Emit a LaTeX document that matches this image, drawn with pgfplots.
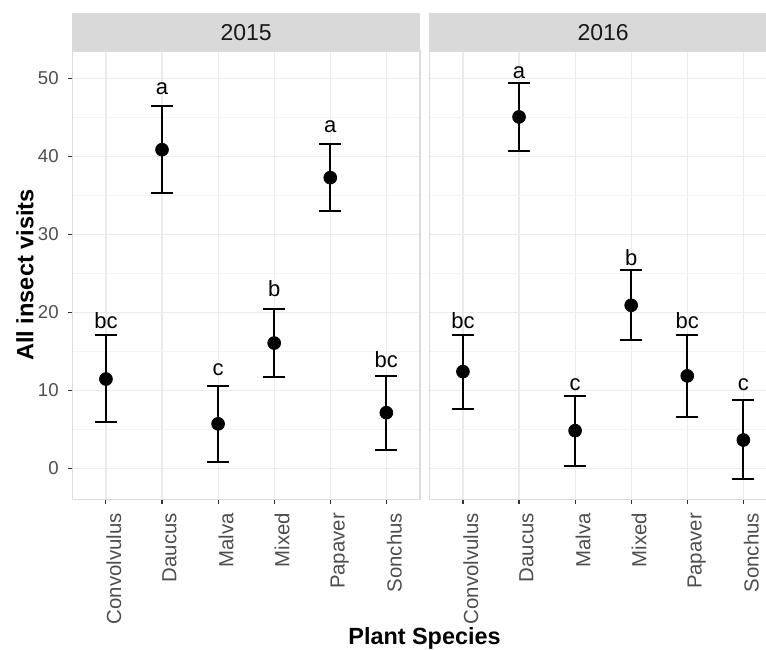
\documentclass[border=0pt]{standalone}
\usepackage{pgfplots}
\usepackage{pgfplotstable}
\pgfplotsset{compat=1.18}
\usepackage{fontspec}
\setmainfont{Liberation Sans}
\definecolor{gridmaj}{HTML}{EBEBEB}
\definecolor{gridmin}{HTML}{F3F3F3}
\definecolor{bordercol}{HTML}{DCDCDC}
\definecolor{tickcol}{HTML}{333333}
\definecolor{ticklab}{HTML}{4D4D4D}
\definecolor{stripcol}{HTML}{D9D9D9}
\definecolor{striptext}{HTML}{1A1A1A}

\pgfplotstableread{
x y ep em
1 11.45 5.65 5.55
2 40.85 5.65 5.55
3 5.70 4.85 4.85
4 16.06 4.34 4.31
5 37.26 4.34 4.26
6 7.13 4.77 4.78
}\dataA
\pgfplotstableread{
x y ep em
1 12.40 4.70 4.75
2 45.05 4.31 4.35
3 4.83 4.47 4.49
4 20.90 4.50 4.40
5 11.85 5.25 5.25
6 3.63 5.12 5.03
}\dataB
\pgfplotstableread{
x y lab
1 17.95 bc
2 47.90 a
3 11.96 c
4 22.00 b
5 43.03 a
6 12.95 bc
}\labA
\pgfplotstableread{
x y lab
1 17.95 bc
2 50.00 a
3 10.04 c
4 26.06 b
5 17.95 bc
6 10.04 c
}\labB

\pgfplotsset{
 panel/.style={
  scale only axis, width=173.85pt, height=224.15pt,
  xmin=0.4, xmax=6.6, ymin=-3.97, ymax=53.5,
  xtick={1,...,6}, xticklabels={Convolvulus,Daucus,Malva,Mixed,Papaver,Sonchus},
  ytick={0,10,...,50}, minor ytick={5,15,...,45},
  xmajorgrids, ymajorgrids, yminorgrids,
  major grid style={gridmaj, line width=0.6pt},
  minor grid style={gridmin, line width=0.35pt},
  axis line style={bordercol, line width=0.7pt},
  tick align=outside, major tick length=2.15pt, minor tick length=0pt,
  tick style={tickcol, line width=0.55pt},
  xtick pos=bottom,
  xticklabel style={rotate=90, anchor=north east, inner sep=0pt, font=\fontsize{10.2}{12}\selectfont, text=ticklab},
  xticklabel shift=4.5pt,
  yticklabel style={anchor=east, inner sep=0pt, font=\fontsize{9.3}{11}\selectfont, text=ticklab},
  yticklabel shift=4.5pt,
  /pgf/number format/assume math mode=true,
 },
 pts/.style={only marks, mark=*, mark size=3.2pt, mark options={fill=black, draw=black},
   error bars/y dir=both, error bars/y explicit,
   error bars/error bar style={line width=1pt, black},
   error bars/error mark options={rotate=90, mark size=5.5pt, line width=1pt, black}},
 labs/.style={only marks, mark=none, nodes near coords, point meta=explicit symbolic,
   nodes near coords style={anchor=base, inner sep=0pt, font=\fontsize{11}{13}\selectfont, text=black}},
}

\begin{document}
\begin{tikzpicture}
\path[use as bounding box] (0,0) rectangle (383pt,324.5pt);
\clip (0,0) rectangle (383pt,324.5pt);

\begin{axis}[panel, at={(36.15pt,74.85pt)}, anchor=south west, ytick pos=left]
\addplot[pts] table[x=x, y=y, y error plus=ep, y error minus=em] {\dataA};
\addplot[labs] table[x=x, y=y, meta=lab] {\labA};
\end{axis}

\begin{axis}[panel, at={(214.65pt,74.85pt)}, anchor=south west, ytick pos=right, yticklabels={}]
\addplot[pts] table[x=x, y=y, y error plus=ep, y error minus=em] {\dataB};
\addplot[labs] table[x=x, y=y, meta=lab] {\labB};
\end{axis}

\fill[stripcol] (36.15pt,299pt) rectangle (210pt,317.85pt);
\fill[stripcol] (214.65pt,299pt) rectangle (388.5pt,317.85pt);
\node[anchor=base, inner sep=0pt, text=striptext, font=\fontsize{11.5}{13}\selectfont] at (123.075pt,304.15pt) {2015};
\node[anchor=base, inner sep=0pt, text=striptext, font=\fontsize{11.5}{13}\selectfont] at (301.575pt,304.15pt) {2016};
\node[rotate=90, inner sep=0pt, font=\fontsize{11.8}{14}\selectfont\bfseries] at (12.5pt,187pt) {All insect visits};
\node[anchor=base, inner sep=0pt, font=\fontsize{11.7}{14}\selectfont\bfseries] at (212.25pt,2.5pt) {Plant Species};
\end{tikzpicture}
\end{document}
